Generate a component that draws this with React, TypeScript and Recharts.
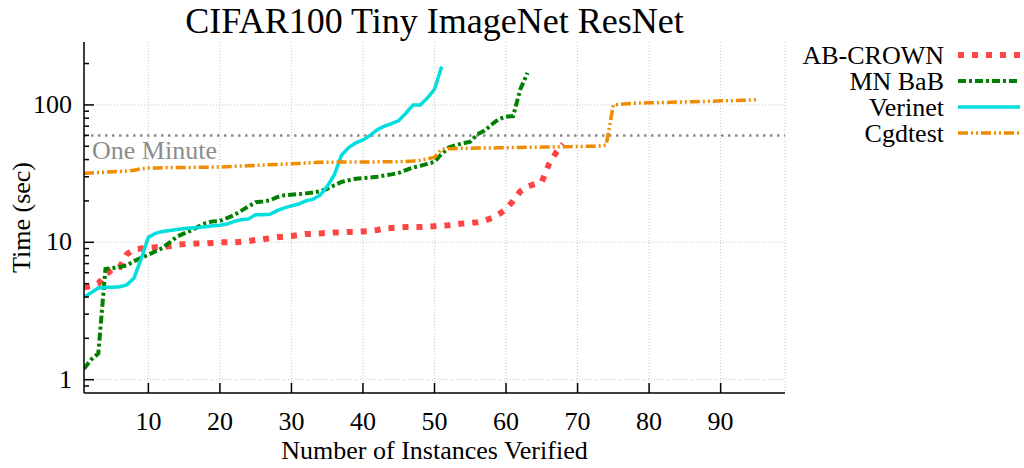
import React from 'react';
import { LineChart, Line, XAxis, YAxis, CartesianGrid, ReferenceLine, Legend } from 'recharts';

const FONT = '"Liberation Serif", "Times New Roman", serif';
const textStyle = { fontFamily: FONT, fontSize: 26 };

const xTicks = [10, 20, 30, 40, 50, 60, 70, 80, 90];
const yMajor = [1, 10, 100];
const yTicks = [0.9, 1, 2, 3, 4, 5, 6, 7, 8, 9, 10, 20, 30, 40, 50, 60, 70, 80, 90, 100, 200];
const oneMinute = 60;

// time (sec) to verify the n-th instance, sorted
const abCrown = [
  4.7, 4.8, 5.0, 5.8, 6.4, 6.6, 8.2, 8.9, 9.0, 9.1, 9.2, 9.2, 9.4, 9.6, 9.7, 9.8, 9.8, 9.8, 9.9, 10.0,
  10.0, 10.0, 10.1, 10.2, 10.4, 10.5, 10.7, 10.9, 11.0, 11.1, 11.3, 11.5, 11.5, 11.6, 11.7, 11.8, 11.8, 11.9, 11.9, 12.0,
  12.1, 12.3, 12.6, 12.7, 12.8, 12.9, 12.9, 12.9, 13.0, 13.1, 13.2, 13.3, 13.5, 13.7, 13.8, 14.0, 14.4, 15.0, 16.0, 17.5,
  20.0, 23.5, 25.5, 26.5, 27.5, 37, 45, 52,
];
const mnBab = [
  1.2, 1.4, 1.55, 6.4, 6.5, 6.6, 6.8, 7.3, 7.7, 8.1, 8.6, 9.1, 10.0, 11.0, 11.6, 12.2, 13.0, 13.8, 14.2, 14.3,
  15.0, 15.8, 17.0, 18.2, 19.6, 19.8, 20.2, 21.3, 22.0, 22.2, 22.4, 22.7, 23.0, 23.5, 24.5, 26.0, 27.5, 28.3, 29.0, 29.3,
  29.6, 30.0, 30.6, 31.2, 32.0, 33.5, 35.0, 36.0, 37.2, 38.5, 44, 49, 51, 52.5, 54, 61, 65, 72, 79, 82,
  83, 130, 171,
];
const verinet = [
  4.0, 4.3, 4.65, 4.7, 4.7, 4.75, 4.9, 5.5, 7.6, 10.9, 11.6, 12.0, 12.2, 12.4, 12.6, 12.7, 12.8, 13.0, 13.2, 13.3,
  13.6, 14.2, 14.6, 14.8, 15.9, 15.9, 16.0, 17.0, 17.8, 18.4, 19.0, 20.0, 20.6, 22.0, 25.5, 31, 43, 49, 53, 55.6,
  60, 66, 70, 73, 77, 87, 100, 100, 112, 130, 190,
];
const cgdtest = [
  31.8, 32.0, 32.2, 32.4, 32.6, 32.8, 33.0, 33.5, 34.3, 34.7, 34.8, 34.9, 35.0, 35.0, 35.1, 35.1, 35.2, 35.2, 35.3, 35.3,
  35.5, 35.7, 35.9, 36.1, 36.3, 36.5, 36.7, 36.9, 37.1, 37.3, 37.5, 37.7, 38.0, 38.2, 38.3, 38.3, 38.4, 38.4, 38.4, 38.4,
  38.4, 38.5, 38.5, 38.5, 38.6, 38.8, 39.0, 39.6, 40.5, 41.7, 47.5, 48.0, 48.2, 48.3, 48.4, 48.5, 48.5, 48.6, 48.7, 48.8,
  48.9, 49.0, 49.1, 49.2, 49.3, 49.4, 49.5, 49.6, 49.7, 49.8, 49.9, 50.0, 50.2, 51.0, 100, 101, 102, 103, 103.4, 103.5,
  103.8, 104, 104.5, 105, 105.2, 105.5, 105.8, 106, 106.5, 107, 107.2, 107.5, 108, 108.5, 109,
];

const toPoints = (values: number[]) => values.map((t, i) => ({ n: i + 1, t }));

const SERIES = [
  { name: 'AB-CROWN', data: toPoints(abCrown), color: '#ff4444', width: 6, dash: '6 8' },
  { name: 'MN BaB', data: toPoints(mnBab), color: '#007f00', width: 4, dash: '8 3 3 3' },
  { name: 'Verinet', data: toPoints(verinet), color: '#00dede', width: 3.5, dash: undefined },
  { name: 'Cgdtest', data: toPoints(cgdtest), color: '#f08c00', width: 3.5, dash: '10 3 2 3 2 3' },
];

const BottomTick = ({ x, y, payload }: any) => (
  <g>
    <line x1={x} y1={y} x2={x} y2={y - 10} stroke="#000" strokeWidth={1.5} />
    <text x={x} y={y + 37} textAnchor="middle" style={textStyle} fill="#000">
      {payload.value}
    </text>
  </g>
);

const TopTick = ({ x, y }: any) => (
  <line x1={x} y1={y} x2={x} y2={y + 10} stroke="#000" strokeWidth={1.5} />
);

const LeftTick = ({ x, y, payload }: any) => {
  const major = yMajor.includes(payload.value);
  return (
    <g>
      <line x1={x} y1={y} x2={x + (major ? 10 : 5)} y2={y} stroke="#000" strokeWidth={1.5} />
      {major && (
        <text x={x - 12} y={y + 8} textAnchor="end" style={textStyle} fill="#000">
          {payload.value}
        </text>
      )}
    </g>
  );
};

const RightTick = ({ x, y, payload }: any) => {
  const major = yMajor.includes(payload.value);
  return <line x1={x} y1={y} x2={x - (major ? 10 : 5)} y2={y} stroke="#000" strokeWidth={1.5} />;
};

const renderLegend = () => (
  <svg width={239} height={110}>
    {SERIES.map((s, i) => {
      const y = 15 + 26 * i;
      return (
        <g key={s.name}>
          <text x={159} y={y + 9} textAnchor="end" style={textStyle} fill="#000">
            {s.name}
          </text>
          <line
            x1={173}
            y1={y}
            x2={235}
            y2={y}
            stroke={s.color}
            strokeWidth={s.width}
            strokeDasharray={s.dash}
          />
        </g>
      );
    })}
  </svg>
);

const App: React.FC = () => {
  return (
    <div style={{ position: 'absolute', left: 0, top: 0, width: 1024, height: 468, fontFamily: FONT, background: '#fff' }}>
      <div
        style={{
          position: 'absolute',
          top: 0,
          left: 84,
          width: 701,
          textAlign: 'center',
          fontSize: 36,
          lineHeight: '42px',
          color: '#000',
        }}
      >
        CIFAR100 Tiny ImageNet ResNet
      </div>
      <LineChart
        width={1024}
        height={468}
        margin={{ top: 42, right: 0, bottom: 0, left: 0 }}
        style={{ fontFamily: FONT }}
      >
        <CartesianGrid horizontal={false} stroke="#c8c8c8" strokeDasharray="1 2" />
        <XAxis
          dataKey="n"
          type="number"
          domain={[1, 99]}
          allowDataOverflow
          ticks={xTicks}
          interval={0}
          height={75}
          tickSize={0}
          tickMargin={0}
          tickLine={false}
          axisLine={{ stroke: '#000', strokeWidth: 1.5 }}
          tick={BottomTick}
          label={(p: any) => (
            <text
              x={p.viewBox.x + p.viewBox.width / 2}
              y={p.viewBox.y + 66}
              textAnchor="middle"
              style={textStyle}
              fill="#000"
            >
              Number of Instances Verified
            </text>
          )}
        />
        <XAxis
          xAxisId="top"
          orientation="top"
          dataKey="n"
          type="number"
          domain={[1, 99]}
          allowDataOverflow
          ticks={xTicks}
          interval={0}
          height={0}
          tickSize={0}
          tickMargin={0}
          tickLine={false}
          axisLine={{ stroke: '#000', strokeWidth: 1.5 }}
          tick={TopTick}
        />
        <YAxis
          scale="log"
          type="number"
          domain={[0.8, 287]}
          allowDataOverflow
          ticks={yTicks}
          interval={0}
          width={84}
          tickSize={0}
          tickMargin={0}
          tickLine={false}
          axisLine={{ stroke: '#000', strokeWidth: 1.5 }}
          tick={LeftTick}
          label={(p: any) => (
            <text
              x={30}
              y={p.viewBox.y + p.viewBox.height / 2}
              transform={`rotate(-90 30 ${p.viewBox.y + p.viewBox.height / 2})`}
              textAnchor="middle"
              style={textStyle}
              fill="#000"
            >
              Time (sec)
            </text>
          )}
        />
        <YAxis
          yAxisId="right"
          orientation="right"
          scale="log"
          type="number"
          domain={[0.8, 287]}
          allowDataOverflow
          ticks={yTicks}
          interval={0}
          width={0}
          tickSize={0}
          tickMargin={0}
          tickLine={false}
          axisLine={{ stroke: '#000', strokeWidth: 1.5 }}
          tick={RightTick}
        />
        {yMajor.map((v) => (
          <ReferenceLine key={v} y={v} stroke="#c8c8c8" strokeDasharray="1 2" />
        ))}
        <ReferenceLine
          y={oneMinute}
          stroke="#8c8c8c"
          strokeWidth={2.5}
          strokeDasharray="2.5 4.5"
          label={(p: any) => (
            <text x={p.viewBox.x + 8} y={p.viewBox.y + 24} style={textStyle} fill="#8c8c8c">
              One Minute
            </text>
          )}
        />
        {SERIES.map((s) => (
          <Line
            key={s.name}
            data={s.data}
            dataKey="t"
            name={s.name}
            stroke={s.color}
            strokeWidth={s.width}
            strokeDasharray={s.dash}
            dot={false}
            isAnimationActive={false}
          />
        ))}
        <Legend
          content={renderLegend}
          layout="vertical"
          verticalAlign="top"
          align="right"
          wrapperStyle={{ top: 40, right: 0, width: 239 }}
        />
      </LineChart>
    </div>
  );
};

export default App;
